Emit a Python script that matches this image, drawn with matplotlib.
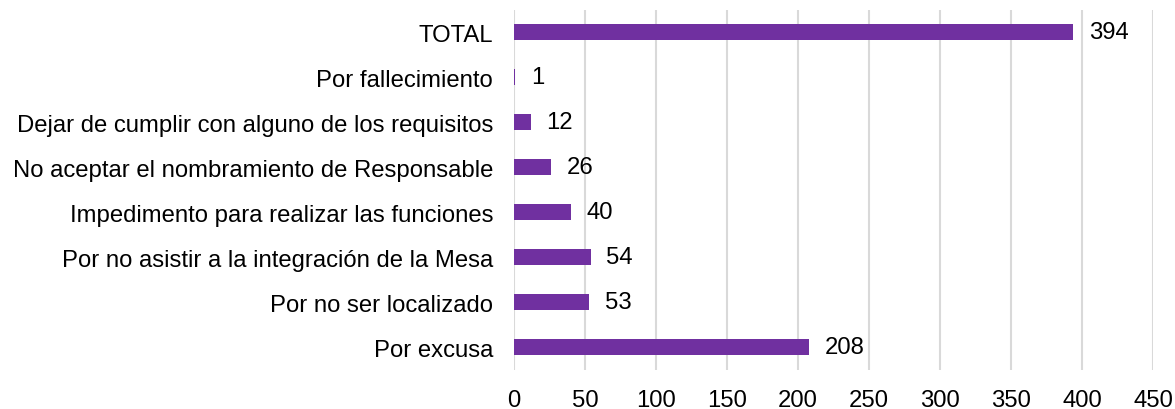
import matplotlib.pyplot as plt

categories = ['Por excusa', 'Por no ser localizado', 'Por no asistir a la integración de la Mesa',
              'Impedimento para realizar las funciones', 'No aceptar el nombramiento de Responsable',
              'Dejar de cumplir con alguno de los requisitos', 'Por fallecimiento', 'TOTAL']
values = [208, 53, 54, 40, 26, 12, 1, 394]

plt.rcParams['font.family'] = ['Liberation Sans', 'DejaVu Sans']

fig = plt.figure(figsize=(11.75, 4.10), dpi=100)
ax = fig.add_axes([0.4374, 0.0963, 0.9813 - 0.4374, 0.974 - 0.0963])

ax.barh(range(len(values)), values, height=0.36, color='#7030A0', zorder=3)
for i, v in enumerate(values):
    ax.text(v + 11, i, str(v), va='center', ha='left', fontsize=17.2)

ax.set_xlim(0, 450)
ax.set_ylim(-0.5, len(values) - 0.5)
ax.set_xticks(range(0, 451, 50))
ax.set_yticks(range(len(values)))
ax.set_yticklabels(categories)
ax.tick_params(axis='both', length=0, labelsize=17.2)
ax.tick_params(axis='y', pad=15)
ax.tick_params(axis='x', pad=14)
ax.xaxis.grid(True, color='#d9d9d9', linewidth=1.5, zorder=0)
for s in ax.spines.values():
    s.set_visible(False)

fig.savefig('out.png')
